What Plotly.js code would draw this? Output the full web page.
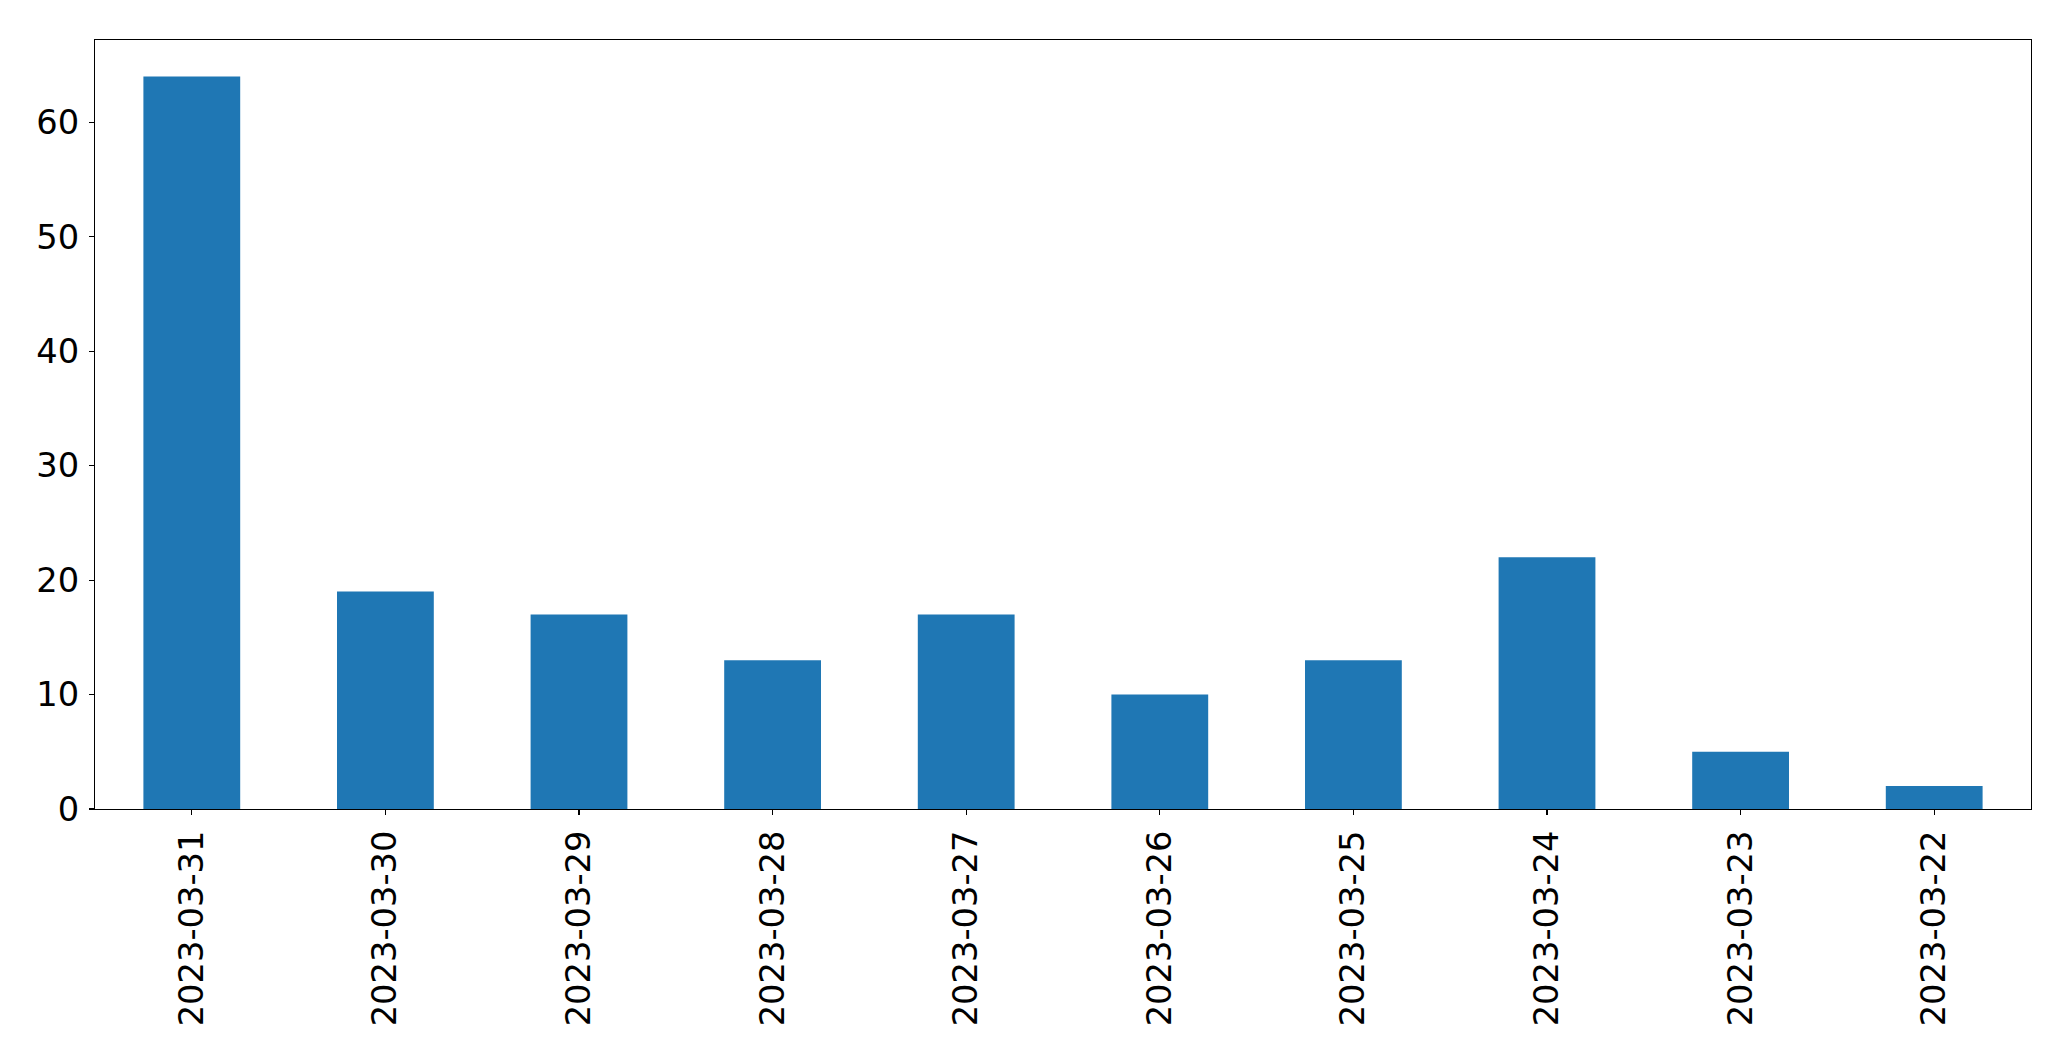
<!DOCTYPE html>
<html>
<head>
<meta charset="utf-8">
<script src="https://cdn.plot.ly/plotly-3.0.1.min.js"></script>
<style>html,body{margin:0;padding:0;background:#fff;}#chart{width:2071px;height:1061px;}</style>
</head>
<body>
<div id="chart"></div>
<script>
const categories = ["2023-03-31","2023-03-30","2023-03-29","2023-03-28","2023-03-27","2023-03-26","2023-03-25","2023-03-24","2023-03-23","2023-03-22"];
const values = [64, 19, 17, 13, 17, 10, 13, 22, 5, 2];
const yTicks = [0, 10, 20, 30, 40, 50, 60];

const font = {family: "DejaVu Sans", size: 33.7, color: "#000"};

Plotly.newPlot("chart", [{
  type: "bar",
  x: categories,
  y: values,
  width: 0.5,
  marker: {color: "#1f77b4", line: {width: 0}},
  hoverinfo: "x+y"
}], {
  width: 2071,
  height: 1061,
  margin: {l: 94.5, r: 39.5, t: 39.5, b: 252, pad: 0},
  paper_bgcolor: "#fff",
  plot_bgcolor: "#fff",
  showlegend: false,
  font: font,
  xaxis: {
    type: "category",
    range: [-0.5, 9.5],
    tickangle: -90,
    ticks: "outside",
    ticklen: 5,
    tickwidth: 1.1,
    tickcolor: "#000",
    showline: true,
    linecolor: "#000",
    linewidth: 1.1,
    mirror: true,
    showgrid: false,
    zeroline: false,
    tickfont: font,
    ticklabelstandoff: 2
  },
  yaxis: {
    range: [0, 67.2],
    tickvals: yTicks,
    ticktext: yTicks.map(String),
    ticks: "outside",
    ticklen: 5,
    tickwidth: 1.1,
    tickcolor: "#000",
    showline: true,
    linecolor: "#000",
    linewidth: 1.1,
    mirror: true,
    showgrid: false,
    zeroline: false,
    tickfont: font,
    ticklabelstandoff: 3
  }
}, {displayModeBar: false, staticPlot: true});
</script>
</body>
</html>
